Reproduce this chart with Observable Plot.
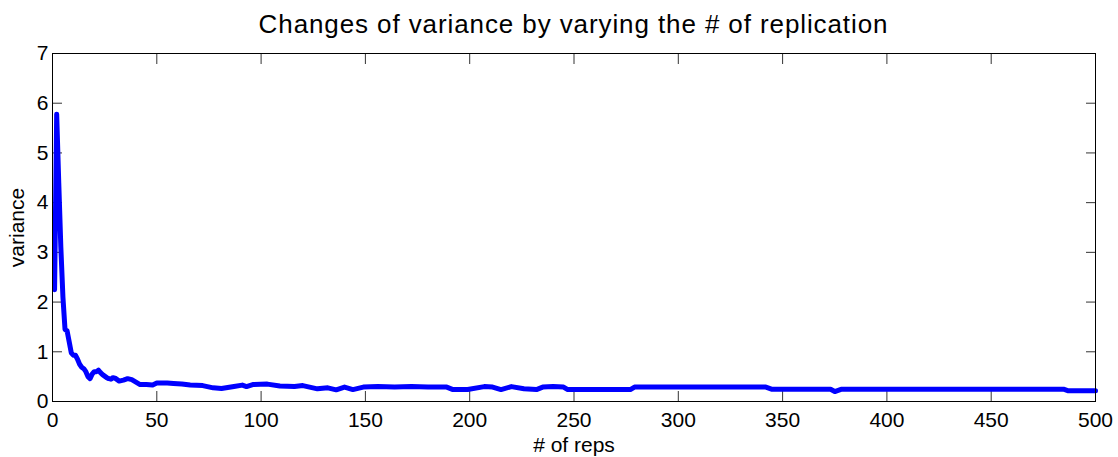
<!DOCTYPE html>
<html>
<head>
<meta charset="utf-8">
<script src="https://cdn.jsdelivr.net/npm/d3@7"></script>
<script src="https://cdn.jsdelivr.net/npm/@observablehq/plot@0.6"></script>
<style>
  body { margin: 0; background: #fff; font-family: "Liberation Sans", Arial, sans-serif; }
  #title {
    height: 40px; box-sizing: border-box; padding: 11px 23px 0 52px;
    text-align: center; font-size: 26px; line-height: 26px; letter-spacing: 0.9px;
    color: #000; white-space: nowrap;
  }
</style>
</head>
<body>
<div id="title">Changes of variance by varying the # of replication</div>
<div id="chart"></div>
<script>
// Running variance estimate against the number of replications
const reps = [
  1, 2, 3, 4, 5, 6, 7, 8, 9, 10, 11, 12, 13, 14, 15, 16, 17, 18, 19, 20,
  21, 22, 23, 24, 25, 26, 27, 28, 29, 30, 32, 34, 36, 38, 40, 42, 45, 48, 50, 55,
  58, 62, 66, 72, 77, 81, 87, 91, 93, 96, 103, 109, 116, 120, 127, 132, 136, 140, 144, 149,
  156, 164, 172, 180, 189, 192, 199, 207, 211, 215, 220, 226, 232, 235, 240, 245, 247, 263, 277, 279,
  342, 345, 373, 375, 378, 485, 487, 500
];
const variance = [
  2.25, 5.78, 4.4, 3.1, 2.1, 1.45, 1.42, 1.2, 0.98, 0.93, 0.93, 0.85, 0.75, 0.69, 0.66, 0.6, 0.5, 0.46, 0.55, 0.6,
  0.6, 0.63, 0.58, 0.54, 0.51, 0.48, 0.46, 0.45, 0.48, 0.47, 0.41, 0.43, 0.46, 0.44, 0.39, 0.34, 0.34, 0.33, 0.37, 0.37,
  0.36, 0.35, 0.33, 0.32, 0.275, 0.26, 0.30, 0.33, 0.30, 0.34, 0.35, 0.31, 0.30, 0.32, 0.255, 0.275, 0.235, 0.29, 0.24, 0.29,
  0.30, 0.29, 0.30, 0.29, 0.29, 0.24, 0.24, 0.30, 0.29, 0.24, 0.30, 0.255, 0.24, 0.29, 0.30, 0.29, 0.24, 0.24, 0.24, 0.29,
  0.29, 0.245, 0.245, 0.20, 0.245, 0.245, 0.215, 0.215
];
const xTicks = [0, 50, 100, 150, 200, 250, 300, 350, 400, 450, 500];
const yTicks = [0, 1, 2, 3, 4, 5, 6, 7];

const data = reps.map((r, i) => ({rep: r, v: variance[i]}));

const chart = Plot.plot({
  width: 1118,
  height: 417,
  marginLeft: 52,
  marginRight: 23,
  marginTop: 13,
  marginBottom: 56,
  style: {fontFamily: "'Liberation Sans', Arial, sans-serif", fontSize: "21px", color: "#000", background: "#fff", overflow: "visible"},
  x: {domain: [0, 500]},
  y: {domain: [0, 7]},
  marks: [
    // tick labels and axis titles
    Plot.axisX({ticks: xTicks, anchor: "bottom", tickSize: 0, tickPadding: 11, tickFormat: d => String(d),
      label: "# of reps", labelAnchor: "center", labelArrow: "none", labelOffset: 50}),
    Plot.axisY({ticks: yTicks, anchor: "left", tickSize: 0, tickPadding: 4, tickFormat: d => String(d),
      label: "variance", labelAnchor: "center", labelArrow: "none", labelOffset: 43}),
    // inward ticks on all four sides
    Plot.axisX({ticks: xTicks, anchor: "bottom", tickSize: -10, text: null, label: null, stroke: "#333"}),
    Plot.axisX({ticks: xTicks, anchor: "top", tickSize: -10, text: null, label: null, stroke: "#333"}),
    Plot.axisY({ticks: yTicks, anchor: "left", tickSize: -10, text: null, label: null, stroke: "#333"}),
    Plot.axisY({ticks: yTicks, anchor: "right", tickSize: -10, text: null, label: null, stroke: "#333"}),
    Plot.line(data, {x: "rep", y: "v", stroke: "#0000ff", strokeWidth: 5, strokeLinejoin: "round"}),
    Plot.frame({stroke: "#000", strokeWidth: 1})
  ]
});
document.getElementById("chart").append(chart);
</script>
</body>
</html>
